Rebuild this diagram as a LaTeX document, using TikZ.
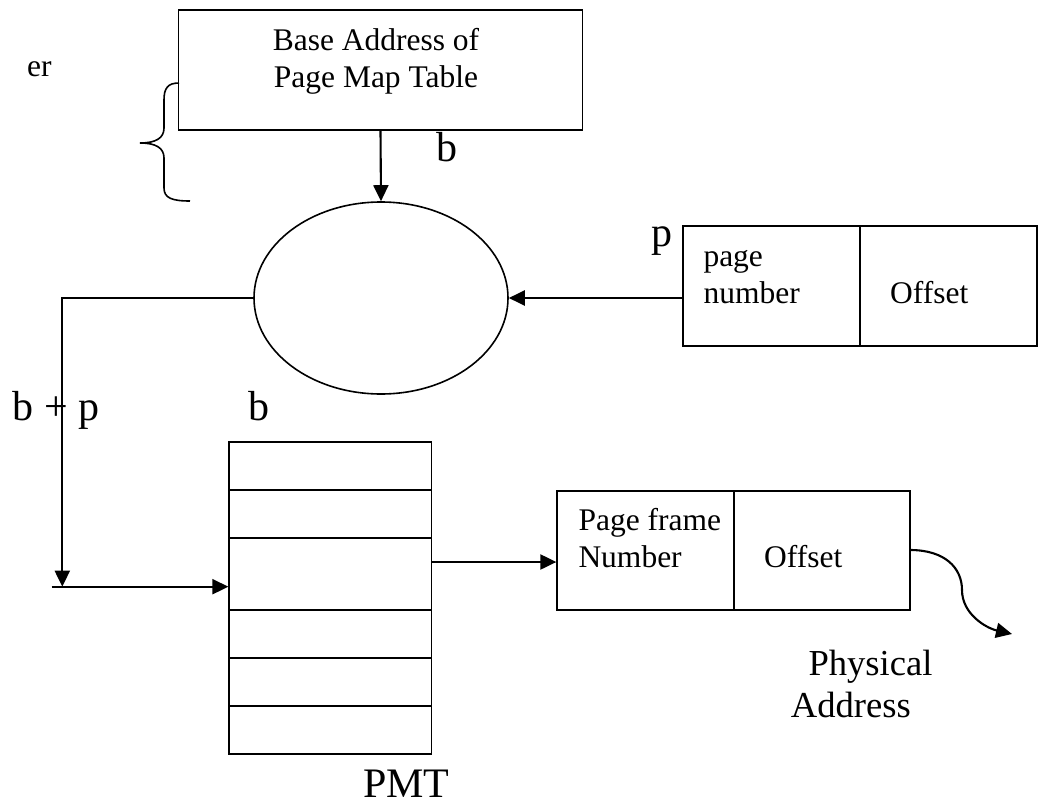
\documentclass[tikz,border=0pt]{standalone}
\usepackage{fontspec}
\setmainfont{Liberation Serif}
\usetikzlibrary{arrows.meta,shapes.geometric}

\tikzset{
  small/.style={font=\fontsize{31.5}{36.6}\selectfont},
  big/.style={font=\fontsize{42}{48}\selectfont},
  mid/.style={font=\fontsize{36.6}{42.3}\selectfont},
  txt/.style={inner sep=0pt, anchor=base west},
  ctxt/.style={inner sep=0pt, anchor=base},
  boxshape/.style={draw, line width=1.8pt, inner sep=0pt, rectangle},
  rule/.style={line width=1.8pt},
  arr/.style={line width=2.1pt, -{Triangle[length=16pt,width=15pt]}},
}

\begin{document}
\begin{tikzpicture}[x=1pt,y=-1pt]
\useasboundingbox (0,0) rectangle (1039,803);

% base address register
\node[boxshape, minimum width=404pt, minimum height=120pt] (topbox) at (380.5,70) {};
\node[small, ctxt] (baseA) at (376,50.7) {Base Address of};
\node[small, ctxt] (baseB) at (376,87) {Page Map Table};
\node[small, txt] (regtail) at (27,76) {er};
\draw[line width=1.6pt] (179,83) .. controls (168,83) and (164,88) .. (164,100)
  -- (164,128) .. controls (164,138) and (156,143) .. (140,143)
  .. controls (156,143) and (164,148) .. (164,158)
  -- (164,188) .. controls (164,198) and (172,201) .. (190,201);

% adder
\node[draw, ellipse, line width=1.6pt, minimum width=254pt, minimum height=192pt, inner sep=0pt] (adder) at (381,298) {};
\node[big, txt] (blab) at (436.7,161.7) {b};

% logical address
\node[boxshape, minimum width=353.4pt, minimum height=120pt] (inbox) at (860,286) {};
\draw[rule] (860,226) -- (860,346);
\node[small, txt] (pg1) at (703.3,266.7) {page};
\node[small, txt] (pg2) at (703.3,303.3) {number};
\node[small, txt] (off1) at (890,303.3) {Offset};
\node[big, txt] (plab) at (651.7,246) {p};

% page map table
\node[boxshape, minimum width=202.2pt, minimum height=312pt] (pmt) at (330.4,598.3) {};
\foreach \yy in {490,538,610.3,658.3,706.3}
  \draw[rule] (229.3,\yy) -- (431.5,\yy);
\node[big, txt] (bplab) at (12.7,420) {b + p};
\node[big, txt] (b2lab) at (248.3,420) {b};
\node[big, txt, text depth=0pt] (pmtlab) at (363,797) {PMT};

% physical address
\node[boxshape, minimum width=352.7pt, minimum height=119.3pt] (outbox) at (733.6,550.3) {};
\draw[rule] (734,490.7) -- (734,610);
\node[small, txt] (pf1) at (578.3,530.7) {Page frame};
\node[small, txt] (pf2) at (578.3,567.3) {Number};
\node[small, txt] (off2) at (764,567.3) {Offset};
\node[mid, txt] (ph1) at (808.3,675) {Physical};
\node[mid, txt] (ph2) at (790.7,717.3) {Address};

% connectors
\coordinate (bend) at (62.3,298);
\coordinate (drop) at (62.3,586.7);
\coordinate (feed) at (51.7,586.7);
\coordinate (pmtout) at (431.5,562);
\coordinate (outstart) at (910,550);
\coordinate (outend) at (1012,634);

\draw[arr] (topbox.south) -- (adder.north);
\draw[arr] (inbox.west |- adder.east) -- (adder.east);
\draw[arr] (adder.west) -- (bend) -- (drop);
\draw[arr] (feed) -- (pmt.west |- feed);
\draw[arr] (pmtout) -- (outbox.west |- pmtout);
\draw[arr] (outstart) .. controls (945,550) and (962,568) .. (962,590)
  .. controls (962,614) and (986,628) .. (outend);
\end{tikzpicture}
\end{document}
